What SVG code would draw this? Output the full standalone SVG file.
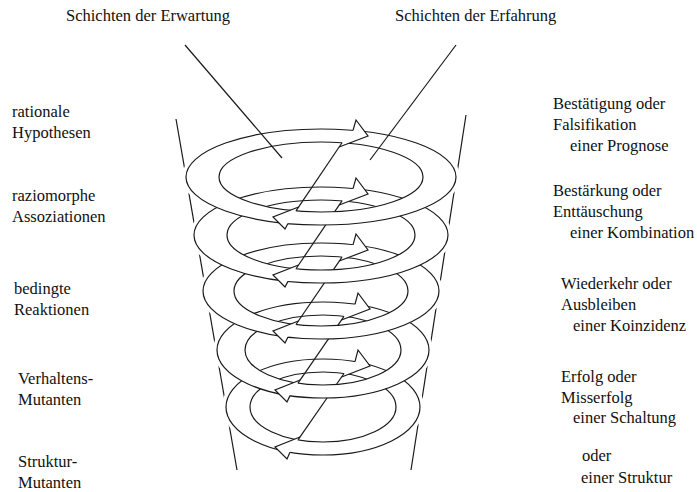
<svg xmlns="http://www.w3.org/2000/svg" width="697" height="492" viewBox="0 0 697 492">
<style>
 .ln{fill:none;stroke:#1a1a1a;stroke-width:1.2;stroke-linejoin:miter}
 .ring{fill:#fff;fill-rule:evenodd;stroke:#1a1a1a;stroke-width:1.2}
 .halo{fill:none;stroke:#fff;stroke-width:8}
 .head{fill:#fff;stroke:none}
 .t{font-size:16.5px;fill:#111}
</style>
<rect width="697" height="492" fill="#fff"/>
<g id="cone">
 <line class="ln" x1="176" y1="119" x2="237" y2="470"/>
 <line class="ln" x1="466" y1="115" x2="411" y2="470"/>
 <ellipse class="halo" cx="321" cy="177" rx="135" ry="48"/>
 <ellipse class="halo" cx="321" cy="235" rx="127" ry="48"/>
 <ellipse class="halo" cx="321" cy="291" rx="118" ry="48"/>
 <ellipse class="halo" cx="323" cy="350" rx="106" ry="48"/>
 <ellipse class="halo" cx="323" cy="407" rx="97" ry="48"/>
</g>
<g id="ring5">
 <path class="ring" d="M226,407 a97,48 0 1,0 194,0 a97,48 0 1,0 -194,0 Z M250,407 a73,35 0 1,0 146,0 a73,35 0 1,0 -146,0 Z"/>
 <polygon class="head" points="355,361.69 358,350 370,366 341.56,377 344,373.48"/>
 <polyline class="ln" points="355,361.69 358,350 370,366 341.56,377"/>
 <polygon class="head" points="300,437 275,447 287,459 290,452.14 298,439.88"/>
 <polyline class="ln" points="300,437 275,447 287,459 290,452.14"/>
 <line class="ln" x1="344" y1="373.48" x2="298" y2="439.88"/>
</g>
<g id="ring4">
 <path class="ring" d="M217,350 a106,48 0 1,0 212,0 a106,48 0 1,0 -212,0 Z M245,350 a78,35 0 1,0 156,0 a78,35 0 1,0 -156,0 Z"/>
 <polygon class="head" points="355,304.24 358,293 370,309 341.45,320 344,316.29"/>
 <polyline class="ln" points="355,304.24 358,293 370,309 341.45,320"/>
 <polygon class="head" points="300.2,380 275,390 287,402 290,395.62 298,383.15"/>
 <polyline class="ln" points="300.2,380 275,390 287,402 290,395.62"/>
 <line class="ln" x1="344" y1="316.29" x2="298" y2="383.15"/>
</g>
<g id="ring3">
 <path class="ring" d="M203,291 a118,48 0 1,0 236,0 a118,48 0 1,0 -236,0 Z M234,291 a87,35 0 1,0 174,0 a87,35 0 1,0 -174,0 Z"/>
 <polygon class="head" points="353,244.8 356,234 368,250 339.3,261 342,257.04"/>
 <polyline class="ln" points="353,244.8 356,234 368,250 339.3,261"/>
 <polygon class="head" points="298.4,321 273,331 285,343 288,337.08 296,324.52"/>
 <polyline class="ln" points="298.4,321 273,331 285,343 288,337.08"/>
 <line class="ln" x1="342" y1="257.04" x2="296" y2="324.52"/>
</g>
<g id="ring2">
 <path class="ring" d="M194,235 a127,48 0 1,0 254,0 a127,48 0 1,0 -254,0 Z M227,235 a94,35 0 1,0 188,0 a94,35 0 1,0 -188,0 Z"/>
 <polygon class="head" points="353,188.55 356,178 368,194 339.2,205 342,200.89"/>
 <polyline class="ln" points="353,188.55 356,178 368,194 339.2,205"/>
 <polygon class="head" points="298.5,265 273,275 285,287 288,281.35 296,268.74"/>
 <polyline class="ln" points="298.5,265 273,275 285,287 288,281.35"/>
 <line class="ln" x1="342" y1="200.89" x2="296" y2="268.74"/>
</g>
<g id="ring1">
 <path class="ring" d="M186,177 a135,48 0 1,0 270,0 a135,48 0 1,0 -270,0 Z M219,177 a102,35 0 1,0 204,0 a102,35 0 1,0 -204,0 Z"/>
 <polygon class="head" points="353,130.4 356,120 368,136 339.1,147 342,142.75"/>
 <polyline class="ln" points="353,130.4 356,120 368,136 339.1,147"/>
 <polygon class="head" points="298.6,207 273,217 285,229 288,223.54 296,210.93"/>
 <polyline class="ln" points="298.6,207 273,217 285,229 288,223.54"/>
 <line class="ln" x1="342" y1="142.75" x2="296" y2="210.93"/>
</g>
<g id="connectors">
 <line class="ln" x1="185" y1="45" x2="282" y2="158"/>
 <line class="ln" x1="456" y1="45" x2="370" y2="160"/>
</g>
<g id="labels" font-family="Liberation Serif, DejaVu Serif, serif">
<g id="title-left"><text class="t" x="66" y="21">Schichten der Erwartung</text></g>
<g id="title-right"><text class="t" x="395" y="21">Schichten der Erfahrung</text></g>
<g id="left-labels">
 <text class="t" x="12" y="117">rationale</text><text class="t" x="12" y="138">Hypothesen</text>
 <text class="t" x="12" y="201">raziomorphe</text><text class="t" x="12" y="222">Assoziationen</text>
 <text class="t" x="14" y="294">bedingte</text><text class="t" x="14" y="315">Reaktionen</text>
 <text class="t" x="18" y="384">Verhaltens-</text><text class="t" x="18" y="405">Mutanten</text>
 <text class="t" x="18" y="467">Struktur-</text><text class="t" x="18" y="488">Mutanten</text>
</g>
<g id="right-labels">
 <text class="t" x="553" y="109">Bestätigung oder</text><text class="t" x="553" y="130">Falsifikation</text><text class="t" x="570" y="151">einer Prognose</text>
 <text class="t" x="553" y="196">Bestärkung oder</text><text class="t" x="553" y="217">Enttäuschung</text><text class="t" x="570" y="238">einer Kombination</text>
 <text class="t" x="561" y="289">Wiederkehr oder</text><text class="t" x="561" y="310">Ausbleiben</text><text class="t" x="573" y="331">einer Koinzidenz</text>
 <text class="t" x="561" y="382">Erfolg oder</text><text class="t" x="561" y="403">Misserfolg</text><text class="t" x="573" y="423">einer Schaltung</text>
 <text class="t" x="582" y="461">oder</text><text class="t" x="581" y="483">einer Struktur</text>
</g>
</g>
</svg>
